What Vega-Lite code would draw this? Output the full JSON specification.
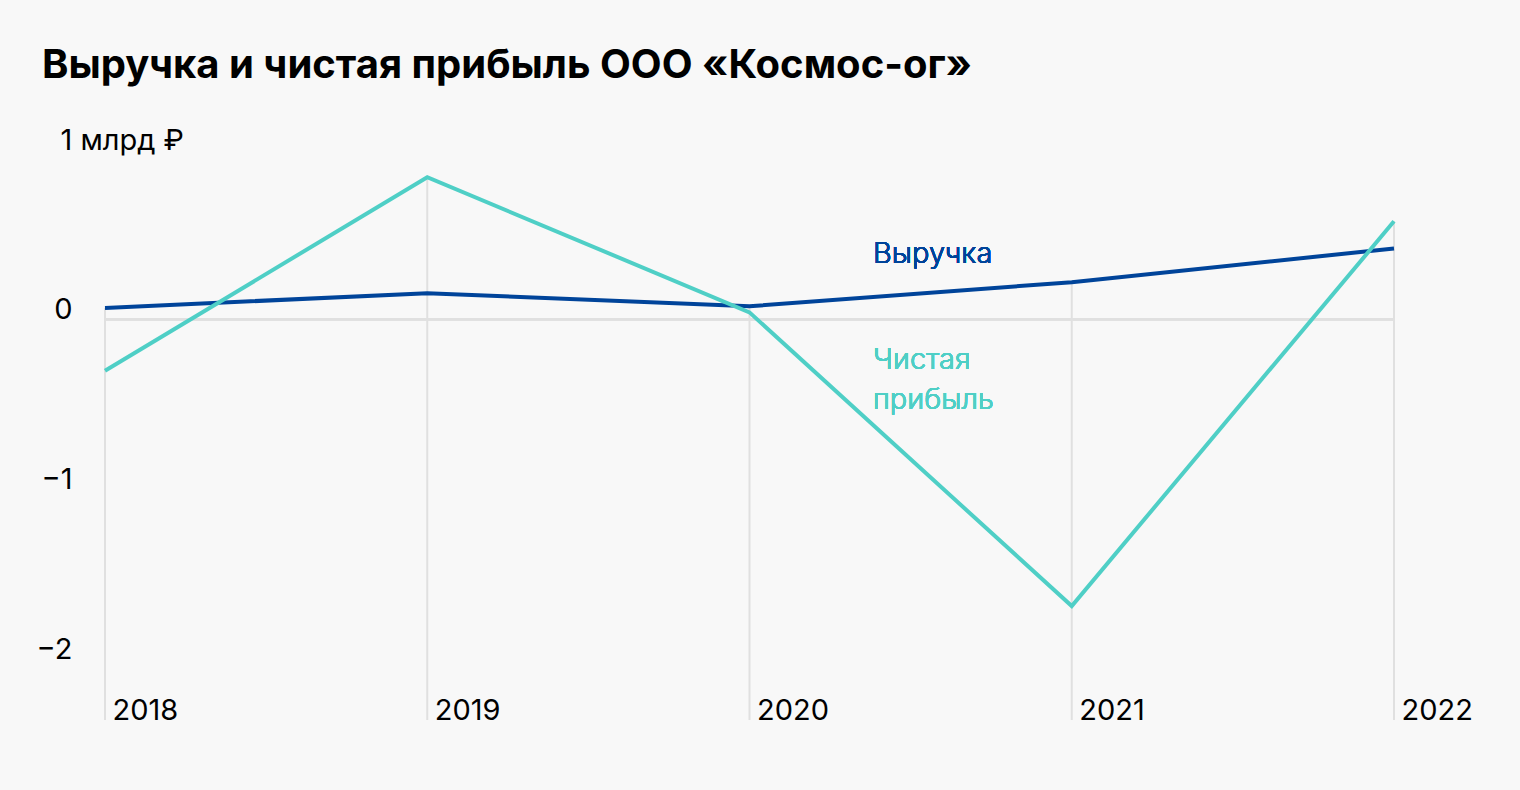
{
  "$schema": "https://vega.github.io/schema/vega-lite/v6.json",
  "autosize": "none",
  "width": 1289,
  "height": 570,
  "padding": {"left": 105, "top": 150, "right": 126, "bottom": 70},
  "background": "#f8f8f8",
  "config": {
    "view": {"stroke": null},
    "font": "Inter",
    "axis": {"labelFont": "Inter", "labelColor": "#000000", "labelFontSize": 29, "grid": false, "ticks": false, "domain": false, "title": null}
  },
  "title": {
    "text": "Выручка и чистая прибыль ООО «Космос-ог»",
    "anchor": "start",
    "frame": "group",
    "dx": -63,
    "offset": 8,
    "baseline": "alphabetic",
    "font": "Inter",
    "fontSize": 40,
    "fontWeight": 700,
    "color": "#000000"
  },
  "data": {
    "values": [
      {"year": 2018, "series": "Выручка", "value": 0.07},
      {"year": 2019, "series": "Выручка", "value": 0.157},
      {"year": 2020, "series": "Выручка", "value": 0.08},
      {"year": 2021, "series": "Выручка", "value": 0.222},
      {"year": 2022, "series": "Выручка", "value": 0.42},
      {"year": 2018, "series": "Чистая прибыль", "value": -0.3},
      {"year": 2019, "series": "Чистая прибыль", "value": 0.84},
      {"year": 2020, "series": "Чистая прибыль", "value": 0.044},
      {"year": 2021, "series": "Чистая прибыль", "value": -1.685},
      {"year": 2022, "series": "Чистая прибыль", "value": 0.58}
    ]
  },
  "resolve": {"axis": {"y": "independent"}},
  "layer": [
    {
      "transform": [{"aggregate": [{"op": "max", "field": "value", "as": "top"}], "groupby": ["year"]}],
      "mark": {"type": "rule", "color": "#e0e0e0", "strokeWidth": 2},
      "encoding": {
        "x": {
          "field": "year", "type": "quantitative",
          "scale": {"domain": [2018, 2022], "nice": false, "zero": false},
          "axis": {"values": [2018, 2019, 2020, 2021, 2022], "format": "d", "labelAlign": "left", "labelOffset": 7, "labelBaseline": "alphabetic", "labelPadding": -1, "labelFlush": false, "labelOverlap": false}
        },
        "y": {
          "field": "top", "type": "quantitative",
          "scale": {"domain": [-2.356, 1], "nice": false, "zero": false},
          "axis": {"orient": "left", "values": [1], "labelExpr": "'1 млрд ₽'", "labelAlign": "left", "labelPadding": 45, "labelOffset": -10, "labelBaseline": "middle"}
        },
        "y2": {"datum": -2.356}
      }
    },
    {
      "mark": {"type": "rule", "color": "#e0e0e0", "strokeWidth": 2},
      "encoding": {
        "y": {"datum": 0, "type": "quantitative", "axis": null}
      }
    },
    {
      "mark": {"type": "line", "strokeWidth": 4},
      "encoding": {
        "x": {"field": "year", "type": "quantitative"},
        "y": {
          "field": "value", "type": "quantitative",
          "axis": {"orient": "left", "values": [0, -1, -2], "labelAlign": "right", "labelPadding": 33, "labelOffset": -10, "labelBaseline": "middle"}
        },
        "color": {
          "field": "series", "type": "nominal",
          "scale": {"domain": ["Выручка", "Чистая прибыль"], "range": ["#00449a", "#4fcfc6"]},
          "legend": null
        }
      }
    },
    {
      "mark": {"type": "text", "text": "Выручка", "align": "left", "baseline": "middle", "font": "Inter", "fontWeight": 300, "fontSize": 29, "color": "#00449a"},
      "encoding": {
        "x": {"datum": 2020.383, "type": "quantitative"},
        "y": {"datum": 0.385, "type": "quantitative", "axis": null}
      }
    },
    {
      "mark": {"type": "text", "text": ["Чистая", "прибыль"], "align": "left", "baseline": "middle", "font": "Inter", "fontWeight": 300, "fontSize": 29, "lineHeight": 40, "color": "#4fcfc6"},
      "encoding": {
        "x": {"datum": 2020.383, "type": "quantitative"},
        "y": {"datum": -0.238, "type": "quantitative", "axis": null}
      }
    }
  ]
}
